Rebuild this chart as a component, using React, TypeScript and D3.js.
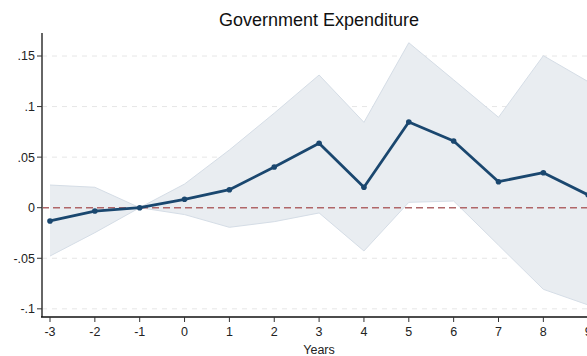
import React from "react";
import * as d3 from "d3";

const years = [-3, -2, -1, 0, 1, 2, 3, 4, 5, 6, 7, 8, 9];
const coef = [-0.0131, -0.0033, 0, 0.0083, 0.0178, 0.0402, 0.0637, 0.0202, 0.0847, 0.0659, 0.0257, 0.0346, 0.0126];
const upper = [0.0224, 0.0202, 0, 0.0234, 0.0571, 0.0935, 0.1312, 0.0844, 0.1631, 0.1264, 0.0894, 0.1503, 0.1246];
const lower = [-0.0478, -0.0247, 0, -0.0068, -0.0194, -0.0138, -0.0052, -0.0428, 0.0053, 0.0066, -0.037, -0.0807, -0.0962];
const yTicks = [0.15, 0.1, 0.05, 0, -0.05, -0.1];
const yTickLabels = [".15", ".1", ".05", "0", "-.05", "-.1"];
const title = "Government Expenditure";
const xTitle = "Years";

export default function App() {
  const W = 587, H = 356;
  const x = d3.scaleLinear().domain([-3, 9]).range([50, 588.2]);
  const y = d3.scaleLinear().domain([0, 0.15]).range([207.7, 56]);
  const xLeft = 42, yBottom = 317, yTop = 33;
  const pts = years.map((t, i) => ({ t, c: coef[i], u: upper[i], l: lower[i] }));
  const area = d3.area<any>().x(d => x(d.t)).y0(d => y(d.l)).y1(d => y(d.u));
  const upLine = d3.line<any>().x(d => x(d.t)).y(d => y(d.u));
  const loLine = d3.line<any>().x(d => x(d.t)).y(d => y(d.l));
  const line = d3.line<any>().x(d => x(d.t)).y(d => y(d.c));
  const font = "Liberation Sans, Arial, sans-serif";
  return (
    <svg width={W} height={H} style={{ position: "absolute", left: 0, top: 0, background: "#fff" }} fontFamily={font}>
      <text x={319} y={26} textAnchor="middle" fontSize={18} fill="#111">{title}</text>
      {yTicks.filter(v => v !== 0).map(v => (
        <line key={v} x1={xLeft} x2={W} y1={y(v)} y2={y(v)} stroke="#e6e6e6" strokeWidth={1} strokeDasharray="5,5" />
      ))}
      <path d={area(pts) || ""} fill="#e9edf1" />
      <path d={upLine(pts) || ""} fill="none" stroke="#d5dde6" strokeWidth={1} />
      <path d={loLine(pts) || ""} fill="none" stroke="#d5dde6" strokeWidth={1} />
      <line x1={xLeft} x2={W} y1={y(0)} y2={y(0)} stroke="#b06668" strokeWidth={1.6} strokeDasharray="7,4" />
      <path d={line(pts) || ""} fill="none" stroke="#1a476f" strokeWidth={2.8} strokeLinejoin="round" />
      {pts.map(p => (
        <circle key={p.t} cx={x(p.t)} cy={y(p.c)} r={2.8} fill="#1a476f" />
      ))}
      <line x1={xLeft} x2={xLeft} y1={yTop} y2={yBottom} stroke="#666" strokeWidth={2} />
      <line x1={xLeft - 1} x2={W} y1={yBottom} y2={yBottom} stroke="#111" strokeWidth={1.5} />
      {yTicks.map((v, i) => (
        <g key={v}>
          <line x1={xLeft - 5} x2={xLeft} y1={y(v)} y2={y(v)} stroke="#333" strokeWidth={1} />
          <text x={xLeft - 7} y={y(v)} dy="0.35em" textAnchor="end" fontSize={12.5} fill="#222">{yTickLabels[i]}</text>
        </g>
      ))}
      {years.map(t => (
        <g key={t}>
          <line x1={x(t)} x2={x(t)} y1={yBottom} y2={yBottom + 5} stroke="#333" strokeWidth={1} />
          <text x={x(t)} y={332} dy="0.35em" textAnchor="middle" fontSize={12.5} fill="#222">{t}</text>
        </g>
      ))}
      <text x={319} y={350} dy="0.35em" textAnchor="middle" fontSize={12.5} fill="#222">{xTitle}</text>
    </svg>
  );
}
